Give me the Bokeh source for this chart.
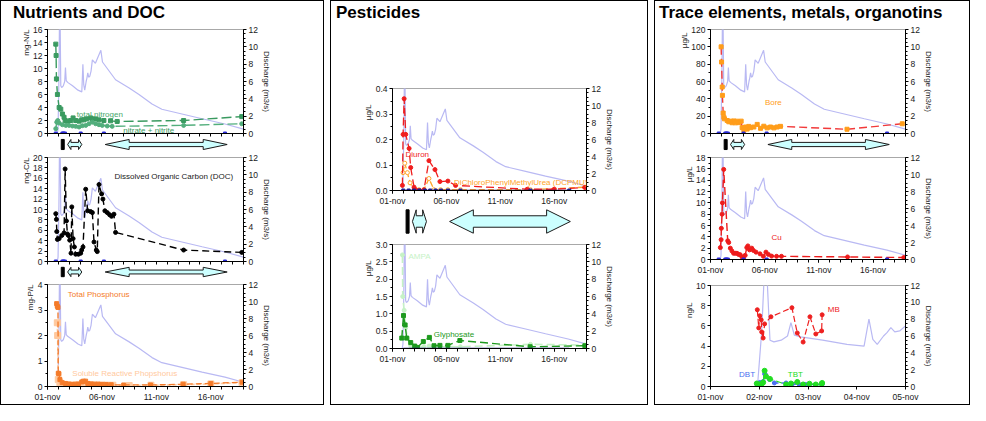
from bokeh.plotting import figure
from bokeh.models import (Range1d, LinearAxis, SingleIntervalTicker, FixedTicker,
                          Label, NumeralTickFormatter, Div, Title)
from bokeh.layouts import column, row
from bokeh.embed import file_html
from bokeh.resources import INLINE

FONT = "Liberation Sans"
TXT = "#1a1a1a"
Q_COLOR = "#b9b9f3"

# ---------------- data (x = days since 01-nov 00:00) ----------------
long_tick_days = [0, 5, 10, 15]
long_tick_labels = ["01-nov", "06-nov", "11-nov", "16-nov"]
short_tick_days = [0, 1, 2, 3, 4]
short_tick_labels = ["01-nov", "02-nov", "03-nov", "04-nov", "05-nov"]

discharge_days = [0, 0.9, 0.97, 1.05, 1.1, 1.16, 1.22, 1.3, 1.45, 1.58, 1.65, 1.72, 1.85,
                  2.3, 2.8, 3.15, 3.25, 3.33, 3.42, 3.55, 3.62, 3.7, 3.78, 3.88, 4.0, 4.12,
                  4.4, 4.9, 5.05, 6.25, 7.5, 8.4, 9.6, 10.5, 12.35, 14.2, 16.3, 18.0]
discharge_m3s = [0, 0, 0.5, 6.5, 13, 13, 5.5, 5.3, 5.5, 6.0, 7.6, 6.1, 5.9,
                 5.5, 5.0, 4.8, 8.0, 5.6, 5.0, 6.0, 6.4, 7.0, 6.5, 6.6, 7.2, 8.5,
                 8.1, 9.6, 8.25, 6.2, 5.25, 4.5, 3.4, 2.8, 2.25, 1.7, 1.1, 0.5]

sampling_days = [0.76, 1.37, 1.47, 1.6, 3.05, 5.18, 16.3]
sampling_vals = [0, 0, 0, 0, 0, 0, 0]

tn_days = [0.76, 0.79, 0.82, 0.91, 1.07, 1.22, 1.37, 1.52, 1.62, 1.83, 2.13, 2.35, 2.59,
           2.9, 3.14, 3.35, 3.57, 3.96, 4.12, 4.42, 4.73, 5.18, 5.79, 6.4, 12.5, 17.84]
tn_vals = [13.75, 12.0, 8.4, 6.0, 4.0, 3.75, 3.0, 2.5, 2.0, 1.9, 2.0, 2.4, 2.0,
           1.9, 2.1, 2.1, 2.25, 2.4, 2.25, 2.25, 2.1, 2.0, 1.95, 1.85, 2.0, 2.6]
no3_days = [0.76, 0.85, 0.94, 1.07, 1.37, 1.68, 1.98, 2.29, 2.59, 2.9, 3.2, 3.51, 3.81,
            4.12, 4.42, 4.73, 5.03, 5.49, 5.94, 12.5, 17.84]
no3_vals = [0.75, 1.75, 2.0, 1.6, 1.35, 1.25, 1.25, 1.15, 1.1, 1.0, 1.2, 1.25, 1.5,
            1.75, 1.5, 1.35, 1.25, 1.15, 1.1, 1.25, 1.5]

doc_days = [0.76, 0.82, 0.85, 0.91, 1.07, 1.31, 1.52, 1.62, 1.74, 1.83, 1.92, 2.04, 2.16,
            2.23, 2.35, 2.47, 2.59, 2.84, 3.05, 3.14, 3.26, 3.51, 3.69, 3.96, 4.12, 4.27,
            4.48, 4.57, 4.73, 4.97, 5.09, 5.27, 5.49, 5.7, 5.88, 6.1, 6.25, 12.5, 17.84]
doc_vals = [9.2, 8.1, 5.75, 4.25, 4.4, 5.0, 5.5, 17.8, 7.8, 5.3, 5.0, 4.1, 1.6,
            10.5, 4.4, 2.8, 1.4, 1.4, 1.6, 2.2, 2.8, 13.9, 9.75, 9.6, 9.4, 3.75,
            2.2, 1.9, 14.8, 13.0, 12.0, 9.75, 9.4, 9.0, 8.7, 9.1, 5.6, 2.2, 1.75]

tp_days = [0.84, 0.9, 0.96, 0.99, 1.05, 1.14, 1.35, 1.65, 1.95, 2.25, 2.55, 2.85, 3.15,
           3.3, 3.5, 3.7, 4.0, 4.35, 4.65, 5.0, 5.4, 5.85, 7.0, 9.46, 12.46, 15.0, 17.87]
tp_vals = [3.25, 3.15, 3.1, 0.52, 0.5, 0.27, 0.15, 0.12, 0.1, 0.08, 0.09, 0.1, 0.18,
           0.21, 0.21, 0.12, 0.1, 0.09, 0.09, 0.08, 0.08, 0.07, 0.06, 0.06, 0.09, 0.12, 0.17]
srp_days = [0.9, 0.93, 0.99, 1.14, 1.35, 1.65, 2.0, 2.4, 2.8, 3.2, 3.6, 4.0, 4.5, 5.0,
            5.5, 6.0, 7.5, 9.5, 12.5, 15.0, 17.87]
srp_vals = [2.5, 2.0, 0.27, 0.15, 0.08, 0.06, 0.05, 0.06, 0.05, 0.1, 0.08, 0.07, 0.06,
            0.06, 0.05, 0.05, 0.04, 0.05, 0.07, 0.1, 0.15]

diuron_days = [0.92, 0.98, 1.08, 1.23, 1.54, 1.69, 2.0, 2.15, 2.5, 2.92, 3.38, 3.94, 4.4,
               5.14, 5.85, 12.5, 15.0, 17.85]
diuron_vals = [0.02, 0.22, 0.36, 0.22, 0.165, 0.09, 0.013, 0.003, 0.0, 0.003, 0.117, 0.082,
               0.035, 0.037, 0.02, 0.005, 0.005, 0.012]
dcpmu_days = [0.98, 1.14, 1.38, 1.63, 2.0, 2.46, 2.92, 3.38, 3.85, 4.46, 5.14, 6.31, 12.8, 17.85]
dcpmu_vals = [0.07, 0.107, 0.07, 0.03, 0.004, 0.003, 0.003, 0.047, 0.003, 0.003, 0.003,
              0.003, 0.003, 0.013]
other_pest_days = [1.0, 1.5, 2.0, 2.5, 3.0, 3.5, 4.0, 4.5, 5.15, 6.3, 12.8, 16.4]
other_pest_vals = [0, 0, 0, 0, 0, 0, 0, 0, 0, 0, 0, 0]

ampa_days = [0.92, 0.95, 1.08, 1.23, 1.38, 1.69, 2.0, 2.3, 2.9, 3.4, 3.9, 4.4, 5.14,
             6.3, 12.8, 17.85]
ampa_vals = [2.7, 1.5, 1.1, 0.6, 0.3, 0.08, 0.05, 0.04, 0.05, 0.07, 0.06, 0.05, 0.06,
             0.05, 0.12, 0.1]
glyph_days = [0.86, 1.02, 1.17, 1.32, 1.69, 2.06, 2.31, 2.86, 3.42, 3.85, 4.4, 5.14,
              6.25, 12.77, 17.85]
glyph_vals = [0.3, 0.95, 0.68, 0.3, 0.17, 0.07, 0.03, 0.2, 0.32, 0.08, 0.09, 0.09,
              0.23, 0.05, 0.08]

bore_days = [0.98, 1.02, 1.08, 1.1, 1.17, 1.23, 1.29, 1.54, 1.69, 1.85, 2.0, 2.15, 2.3,
             2.46, 2.6, 2.83, 2.92, 3.08, 3.23, 3.38, 3.54, 3.69, 4.0, 4.31, 4.62, 4.92,
             5.23, 5.54, 5.85, 6.15, 6.46, 12.6, 17.7]
bore_vals = [100, 82.5, 53.6, 44, 23.6, 18.75, 16.9, 15, 13.5, 14.2, 12.4, 14.5, 12.3,
             14.2, 12.5, 14.25, 6.75, 3.75, 7.5, 5.1, 8.2, 6.7, 7.5, 10.5, 6.0, 8.4,
             6.5, 7.5, 6.5, 7.5, 8.25, 4.9, 11.25]
cu_days = [0.91, 0.98, 1.0, 1.07, 1.1, 1.22, 1.59, 1.68, 1.83, 1.98, 2.13, 2.29, 2.44,
           2.59, 2.74, 2.9, 3.05, 3.2, 3.35, 3.45, 3.6, 3.81, 3.96, 4.2, 4.57, 4.88,
           5.12, 5.34, 5.64, 6.1, 6.55, 12.65, 17.84]
cu_vals = [2.1, 3.5, 5.5, 8.0, 10.0, 15.9, 3.3, 3.0, 2.0, 1.5, 1.1, 1.1, 1.1, 0.9, 0.85,
           0.45, 0.35, 0.73, 2.1, 2.4, 1.7, 2.0, 1.6, 1.3, 1.0, 0.56, 1.3, 0.9, 0.6,
           0.56, 0.56, 0.45, 0.35]

mb_days = [0.96, 0.99, 1.01, 1.04, 1.05, 1.08, 1.11, 1.24, 1.67, 1.78, 1.9, 2.04, 2.16, 2.28, 2.29]
mb_vals = [7.6, 5.8, 7.0, 6.6, 5.4, 4.8, 6.2, 6.9, 7.8, 5.3, 4.4, 6.9, 5.2, 5.5, 7.1]
dbt_days = [0.95, 0.97, 1.01, 1.08, 1.11, 1.13, 1.21, 1.31, 1.55, 1.68, 1.82, 1.95, 2.15, 2.29]
dbt_vals = [0.3, 0.2, 0.4, 0.5, 1.25, 1.15, 0.7, 0.35, 0.35, 0.25, 0.2, 0.2, 0.2, 0.2]
tbt_days = [0.95, 1.01, 1.05, 1.08, 1.11, 1.14, 1.22, 1.55, 1.65, 1.78, 1.9, 2.03, 2.16, 2.28, 2.29]
tbt_vals = [0.3, 0.2, 0.25, 0.4, 1.56, 1.0, 0.75, 0.2, 0.3, 0.45, 0.2, 0.28, 0.2, 0.28, 0.35]

bank_day = 1.4
campaign_small = (1.85, 3.15)
campaign_big = (5.3, 16.5)


# ---------------- helpers ----------------
def style_axis(ax):
    ax.axis_line_color = "black"
    ax.major_tick_line_color = "black"
    ax.minor_tick_line_color = "black"
    ax.major_tick_in = 0
    ax.major_tick_out = 3
    ax.minor_tick_in = 0
    ax.minor_tick_out = 2
    ax.major_label_text_font = FONT
    ax.major_label_text_font_size = "8.5px"
    ax.major_label_text_color = TXT
    ax.major_label_standoff = 2
    ax.axis_label_text_font = FONT
    ax.axis_label_text_font_size = "8px"
    ax.axis_label_text_font_style = "normal"
    ax.axis_label_text_color = TXT
    ax.axis_label_standoff = 1


def make_plot(w, h, bl, br, bt, bb, ymax, yint, ylabel, ylab_offset, show_xlabels,
              short=False, yfmt=None):
    xmax = 4 if short else 18
    p = figure(width=w, height=h, x_range=Range1d(0, xmax), y_range=Range1d(0, ymax),
               toolbar_location=None, output_backend="svg",
               min_border_left=bl, min_border_right=br, min_border_top=bt, min_border_bottom=bb)
    p.grid.visible = False
    p.outline_line_color = "#a8a8a8"
    p.background_fill_color = "white"
    p.border_fill_color = "white"
    p.extra_y_ranges = {"q": Range1d(0, 12)}
    rax = LinearAxis(y_range_name="q", axis_label="Discharge (m3/s)",
                     ticker=SingleIntervalTicker(interval=2, num_minor_ticks=4))
    p.add_layout(rax, "right")
    lax = p.left[0]
    lax.ticker = SingleIntervalTicker(interval=yint, num_minor_ticks=2)
    if yfmt:
        lax.formatter = NumeralTickFormatter(format=yfmt)
    xax = p.below[0]
    for ax in (lax, rax, xax):
        style_axis(ax)
    xax.minor_tick_out = 3
    if short:
        xax.ticker = FixedTicker(ticks=short_tick_days)
        xax.major_label_overrides = dict(zip(short_tick_days, short_tick_labels))
    elif show_xlabels:
        xax.ticker = FixedTicker(ticks=long_tick_days, minor_ticks=list(range(0, 19)))
        xax.major_label_overrides = dict(zip(long_tick_days, long_tick_labels))
    else:
        xax.ticker = FixedTicker(ticks=[], minor_ticks=list(range(0, 19)))
    # left axis title near the top of the axis (Excel style)
    p.add_layout(Title(text=ylabel, align="right", offset=ylab_offset, standoff=0,
                       text_font=FONT, text_font_size="8px", text_font_style="normal",
                       text_color=TXT), "left")
    p.line(discharge_days, discharge_m3s, y_range_name="q", line_color=Q_COLOR, line_width=1.2)
    return p


def series(p, x, y, color, marker="circle", size=4, dash="6 3", lw=1.3, line_color=None,
           fill=None):
    p.line(x, y, line_color=line_color or color, line_dash=dash, line_width=lw)
    p.scatter(x, y, marker=marker, size=size, fill_color=fill or color, line_color=color)


def samples(p, days, vals, color="#2a2ad6"):
    p.scatter(days, vals, marker="square", size=3, fill_color=color, line_color=color)


def tag(p, x, y, text, color, size="8px"):
    p.add_layout(Label(x=x, y=y, text=text, text_color=color, text_font=FONT,
                       text_font_size=size, text_align="center", text_baseline="middle"))


def double_arrow(x0, x1, hl, yc, hh, sh):
    xs = [x0, x0 + hl, x0 + hl, x1 - hl, x1 - hl, x1, x1 - hl, x1 - hl, x0 + hl, x0 + hl]
    ys = [yc, yc + hh, yc + sh, yc + sh, yc + hh, yc, yc - hh, yc - sh, yc - sh, yc - hh]
    return xs, ys


def make_strip(w, h, bl, br, hh, sh, small_hl, big_hl):
    s = figure(width=w, height=h, x_range=Range1d(0, 18), y_range=Range1d(0, 1),
               toolbar_location=None, output_backend="svg",
               x_axis_location=None, y_axis_location=None,
               min_border_left=bl, min_border_right=br, min_border_top=0, min_border_bottom=0)
    s.grid.visible = False
    s.outline_line_color = None
    xs, ys = [], []
    for (a, b), hl in ((campaign_small, small_hl), (campaign_big, big_hl)):
        x, y = double_arrow(a, b, hl, 0.5, hh, sh)
        xs.append(x)
        ys.append(y)
    s.patches(xs, ys, fill_color="#ccffff", line_color="#1a1a1a", line_width=1)
    s.rect(x=[bank_day], y=[0.5], width=3, width_units="screen", height=2 * hh,
           fill_color="black", line_color="black")
    return s


def make_title(w, h, text, xoff):
    return Div(text=f'<div style="font-family: \'Liberation Sans\', Arial, sans-serif; '
                    f'font-size: 17px; font-weight: bold; color: black; white-space: nowrap; '
                    f'padding: 3px 0 0 {xoff}px; line-height: 17px;">{text}</div>',
               width=w, height=h, margin=0)


BOX = {"border": "1px solid black", "background-color": "white"}

# ---------------- left panel ----------------
LW, LBL, LBR = 322, 46, 80
t1 = make_title(LW, 21, "Nutrients and DOC", 12)
pn = make_plot(LW, 115, LBL, LBR, 7, 4, 16, 2, "mg-N/L", 0, False)
series(pn, tn_days, tn_vals, "#3a9a60", marker="square", dash="10 4", lw=1.4)
series(pn, no3_days, no3_vals, "#52ae7c", marker="circle", dash="10 4", lw=1.4)
samples(pn, sampling_days, sampling_vals)
tag(pn, 4.8, 3.0, "total nitrogen", "#49a86c")
tag(pn, 9.3, 0.45, "nitrate + nitrite", "#3a9a60")
s1 = make_strip(LW, 14, LBL, LBR, 0.36, 0.15, 0.3, 2.2)

pc = make_plot(LW, 114, LBL, LBR, 6, 4, 20, 2, "mg-C/L", 0, False)
series(pc, doc_days, doc_vals, "black", marker="circle", dash="7 4", lw=1.4)
samples(pc, sampling_days, sampling_vals)
tag(pc, 11.6, 16.4, "Dissolved Organic Carbon (DOC)", TXT)
s2 = make_strip(LW, 13, LBL, LBR, 0.36, 0.15, 0.3, 2.2)

pp = make_plot(LW, 126, LBL, LBR, 6, 16, 4, 1, "mg-P/L", 0, True)
series(pp, srp_days, srp_vals, "#ffc99e", marker="square", size=6, dash="4 2", lw=1.6)
series(pp, tp_days, tp_vals, "#f47b2a", marker="square", size=4, dash="6 3", lw=1.3)
tag(pp, 4.7, 3.6, "Total Phosphorus", "#f47b2a")
tag(pp, 7.1, 0.52, "Soluble Reactive Phopshorus", "#ffc99e")
left = column(t1, pn, s1, pc, s2, pp, spacing=0, styles=BOX)

# ---------------- middle panel ----------------
MW, MBL, MBR = 316, 61, 61
t2 = make_title(MW, 21, "Pesticides", 5)
pd1 = make_plot(MW, 186, MBL, MBR, 66, 16, 0.4, 0.1, "µg/L", 16, True, yfmt="0.0")
series(pd1, dcpmu_days, dcpmu_vals, "#ffa52a", marker="circle", dash="6 3", fill="white")
series(pd1, diuron_days, diuron_vals, "#f01e1e", marker="circle", dash="8 4")
pd1.line(other_pest_days, other_pest_vals, line_color="#1c1c8a", line_width=1.6)
pd1.scatter(other_pest_days, other_pest_vals, marker="square", size=3, color="#1c1c8a")
tag(pd1, 2.3, 0.141, "Diuron", "#f01e1e")
tag(pd1, 11.9, 0.032, "DiChloroPhenylMethylUrea (DCPMU)", "#ffa52a")
s3 = make_strip(MW, 26, MBL, MBR, 0.45, 0.22, 0.35, 2.2)

pd2 = make_plot(MW, 170, MBL, MBR, 10, 56, 3.0, 0.5, "µg/L", 16, True, yfmt="0.0")
series(pd2, ampa_days, ampa_vals, "#c6f2c6", marker="circle", dash="8 4", lw=1.6)
series(pd2, glyph_days, glyph_vals, "#1e9a1e", marker="square", dash="8 4", lw=1.4)
pd2.line(other_pest_days, other_pest_vals, line_color="#1c1c8a", line_width=1.6)
tag(pd2, 2.5, 2.64, "AMPA", "#c6f2c6")
tag(pd2, 5.7, 0.39, "Glyphosate", "#1e9a1e")
middle = column(t2, pd1, s3, pd2, spacing=0, styles=BOX)

# ---------------- right panel ----------------
RW, RBL, RBR = 314, 55, 64
t3 = make_title(RW, 21, "Trace elements, metals, organotins", 4)
pb = make_plot(RW, 115, RBL, RBR, 7, 4, 120, 20, "µg/L", 3, False)
series(pb, bore_days, bore_vals, "#ff9d1a", marker="square", dash="8 4", lw=1.4,
       line_color="#f23a3a")
samples(pb, sampling_days, sampling_vals)
tag(pb, 5.8, 36, "Bore", "#ff9d1a")
s4 = make_strip(RW, 14, RBL, RBR, 0.36, 0.15, 0.3, 2.2)

pcu = make_plot(RW, 126, RBL, RBR, 6, 16, 18, 2, "µg/L", 9, True)
series(pcu, cu_days, cu_vals, "#ee1c1c", marker="circle", dash="8 4", lw=1.4)
samples(pcu, sampling_days, sampling_vals)
tag(pcu, 6.1, 3.9, "Cu", "#ee1c1c")

pot = make_plot(RW, 127, RBL, RBR, 8, 15, 10, 2, "ng/L", 17, True, short=True)
series(pot, mb_days, mb_vals, "#ee2020", marker="circle", dash="6 3", lw=1.2)
series(pot, dbt_days, dbt_vals, "#4a70f0", marker="circle", dash="6 3", lw=1.4)
series(pot, tbt_days, tbt_vals, "#22dd22", marker="circle", size=5, dash="6 3", lw=1.2)
tag(pot, 2.53, 7.6, "MB", "#ee2020")
tag(pot, 0.75, 1.2, "DBT", "#4a70f0")
tag(pot, 1.74, 1.2, "TBT", "#22dd22")
right = column(t3, pb, s4, pcu, pot, spacing=0, styles=BOX)

layout = row(left, middle, right, spacing=6)

with open("out.html", "w") as f:
    f.write(file_html(layout, INLINE))
